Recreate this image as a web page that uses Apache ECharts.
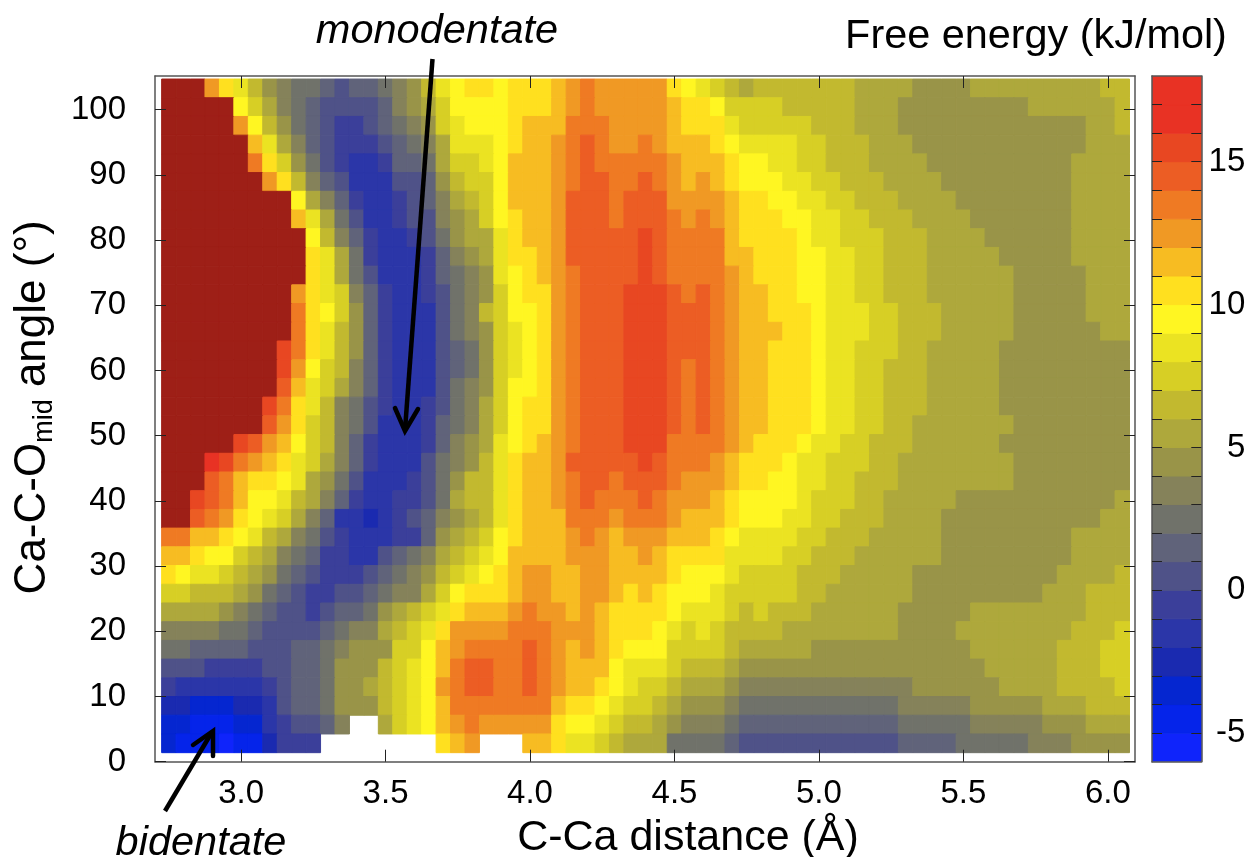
<!DOCTYPE html>
<html>
<head>
<meta charset="utf-8">
<style>html,body{margin:0;padding:0;background:#fff}#c{width:1251px;height:857px}</style>
<script src="https://cdn.jsdelivr.net/npm/echarts@6/dist/echarts.min.js"></script>
</head>
<body>
<div id="c"></div>
<script>
// Free-energy map, one run-length row per angle bin, top row first.
// Letter = 1 kJ/mol colour level (a = -6..-5, b = -5..-4, ... w = 16..17), Z = above the scale, . = no data.
const levelKeys = 'abcdefghijklmnopqrstuvwx';
const energyRows = [
 'Z3 s q o m k j i2 h g h2 i j k m o p q2 p q3 r s t s5 q p o n m l m7 l4 k4 l9 m2',
 'Z5 p n l j i h g4 h j k l n p4 q3 r s t s5 r q2 p n4 m5 l3 k9 l6 m',
 'Z5 s p m k i h g f2 g h i j k n o p3 q r3 t3 s4 r q3 o n5 m3 l3 k13 l2 m',
 'Z6 r o l j h g f3 g h i j l o3 p q r2 s t u t s2 t s r3 q p o4 n2 m3 l3 k12 l3',
 'Z6 t q n k i g f e2 f h2 i l n2 o p r3 s t u t5 s r3 q p2 o2 n2 m3 l4 k10 l4',
 'Z7 s q m j h g e3 g2 h k m n2 p r3 s t u2 t2 u t s r s r q p3 o2 n2 m3 l4 k9 l4',
 'Z9 p l j h f e2 f g h j l m n p r3 s u3 t u3 s4 r q2 p2 o2 n2 m3 l4 k8 l4',
 'Z9 r o l i g e2 f g2 j k l n p q r2 s u3 t u3 t s t s r q3 p2 o2 n2 m3 l4 k7 l4',
 'Z10 p m j h f e2 f g i k l2 o q r2 s u5 v u t4 r q4 p o2 n3 m3 l4 k6 l4',
 'Z10 q o l i f e3 f h j k l o q2 r s u5 v u t4 r2 q3 p2 o2 n2 m3 l5 k5 l4',
 'Z10 q o l i g e3 f h i j k o p q r s t u4 v u t4 s r q3 p2 o2 n2 m3 l6 k5 l3',
 'Z9 s q o n j h f e2 f g i j k n p q2 s t u3 v3 u t u t s r2 q2 p2 o2 n2 m3 l6 k5 l3',
 'Z9 t q p n k h f e3 g i j m n p2 q s t u3 v3 u3 t s r2 q3 p o3 n2 m3 l5 k5 l3',
 'Z9 t q o m k h f e3 g i j k n o p q s t u3 v3 u3 t s r3 q2 p o3 n2 m3 l5 k6 l2',
 'Z8 v t q o m k h f e3 g h i k n o p q s t u3 v3 u3 t s r2 q3 p o2 n3 m2 l5 k9',
 'Z8 v s p n m j h f e3 g h i k n o p q s t u3 v3 u t u t s r2 q3 p o2 n2 m3 l5 k9',
 'Z8 u r o n l j h f e3 g i j k n p2 q s t u3 v3 u t u t s r2 q3 p o2 n2 m3 l5 k9',
 'Z7 v t q o m j i g f e2 f g i j l n p q2 s t u3 v3 u t u t s r2 q3 p o2 n2 m3 l5 k9',
 'Z7 u s q n m j i g e3 f h i j l n p q2 s t u3 v3 u t u t s r2 q3 p o2 n2 m2 l7 k8',
 'Z5 v u s r p n m j h f e3 f h j k l o p q r s t u3 v3 t4 s r q3 p o2 n2 m3 l6 k9',
 'Z3 w v t s r q o n l j h f e3 g i j k m o q r2 s u5 v u t3 s r q3 p o2 n3 m2 l8 k8',
 'Z3 u t r q2 p o l k i g e3 f g i k m2 o q r2 s t u2 t u3 t s3 r q2 p2 o2 n2 m3 l8 k8',
 'Z2 v u t r p2 o m l j h f e2 f2 g i l m2 o q r2 s t u t3 u t s3 r q p4 o n3 m2 l5 k11 l',
 'Z2 u t s q p o n l j h e2 d e f g h j k l m o q r3 t3 s t3 s r3 q p3 o2 n2 m3 l4 k11 l2',
 't2 r2 q p o m l j i g f e3 f2 h k l m n p q r3 s t s r s3 r3 q p o4 n2 m3 l5 k9 l4',
 'r2 q p2 n m l j i h f2 e2 g h i j l m n o p r4 s3 r2 s r q4 o4 n2 m3 l6 k9 l4',
 'q p o2 n m l k i h g f3 g h i j k m n o p q r s2 r2 s2 r4 q p3 o n4 m3 l5 k10 l4 m',
 'n2 m3 l k i h g f2 g2 h i j2 l n p q3 r s2 r2 s2 r q r q p3 o n5 m2 l6 k9 l3 m3',
 'l4 k j i h g2 f g h2 i k l m n o q r3 s t s2 r s r q4 p o3 n m n m3 l6 k5 l8 m3',
 'j4 i2 h g4 h i j2 l m n o q s4 t3 s3 r q3 p o n o n m4 l8 k4 l8 m3 n',
 'i2 h4 g3 h2 i j k3 n2 p r s t4 u t s r s r q p3 n4 m l5 k11 l6 m3 n2',
 'g3 f4 g2 h2 i k3 m n o p r t u2 t2 u t s r3 p o3 n m3 l k17 l5 m3 n2',
 'f e6 f g h2 i k2 l m n o p s t u2 t2 u t s r2 q p o n2 m l3 k j12 k6 l4 m4 n',
 'd2 c3 d2 e g h2 i k3 m n o p r t7 r q2 p o n2 m l k3 j i11 j5 k5 l3 m3',
 'c2 b3 c2 e f g2 h j .2 l n o p r s t s5 q p2 o n m2 l k j3 i h11 i5 j5 k3 l3',
 'c b3 a b2 d f3 .8 q r s .3 r2 q o2 n m l3 i4 h g11 h4 i5 j3 k4'
];
const xTickValues = [3.0, 3.5, 4.0, 4.5, 5.0, 5.5, 6.0];
const yTickValues = [0, 10, 20, 30, 40, 50, 60, 70, 80, 90, 100];
const barTickValues = [-5, -4, -3, -2, -1, 0, 1, 2, 3, 4, 5, 6, 7, 8, 9, 10, 11, 12, 13, 14, 15, 16, 17];
const barLabelValues = [-5, 0, 5, 10, 15];
const barLevels = [-6, -5, -4, -3, -2, -1, 0, 1, 2, 3, 4, 5, 6, 7, 8, 9, 10, 11, 12, 13, 14, 15, 16, 17];
const palette = ['#0f24fb','#0524ea','#0526d0','#1a2ab0','#2b36a8','#3b3f9a','#4f5288','#60637a','#70726a','#85825a',
  '#999448','#aea83c','#c2b92f','#d7cf25','#ebe322','#fff622','#ffe01f','#f7bc22','#f09924','#ef7a23','#ec5d24','#e84722','#e83224','#e83224'];
const overColor = '#9e1f17';
const binStartX = 2.75, binStepX = 0.05;   // first distance bin centre, bin width
const binTopY = 103.27, binStepY = 2.87;   // top angle bin centre, bin height

function energyOf(ch) { return ch === 'Z' ? 19 : levelKeys.indexOf(ch) - 5.5; }
const cells = [];
energyRows.forEach(function (row, r) {
  let c = 0;
  row.split(' ').forEach(function (tok) {
    const n = tok.length > 1 ? parseInt(tok.slice(1), 10) : 1;
    for (let i = 0; i < n; i++, c++) {
      if (tok[0] !== '.') cells.push([binStartX + c * binStepX, binTopY - r * binStepY, energyOf(tok[0])]);
    }
  });
});
function colorOf(v) { return v > 18 ? overColor : palette[Math.floor(v + 6)]; }

const FONT = '"Liberation Sans", Arial, sans-serif';
const frame = { show: true, onZero: false, lineStyle: { color: '#555', width: 1.5 } };
const tick = function (len, vals) {
  return { show: true, inside: true, length: len, customValues: vals, lineStyle: { color: '#222', width: 1 } };
};
const label = function (o) {
  return Object.assign({ color: '#000', fontFamily: FONT, fontSize: 33 }, o);
};

const option = {
  backgroundColor: '#fff',
  animation: false,
  grid: [
    { left: 155, top: 76, width: 980, height: 685.7, outerBoundsMode: 'none', containLabel: false },
    { left: 1152, top: 76, width: 49.3, height: 685.7, outerBoundsMode: 'none', containLabel: false }
  ],
  xAxis: [
    { gridIndex: 0, type: 'value', position: 'bottom', min: 2.702, max: 6.094, z: 5, axisLine: frame, splitLine: { show: false },
      axisTick: tick(12, xTickValues),
      axisLabel: label({ margin: 16, customValues: xTickValues, formatter: function (v) { return v.toFixed(1); } }),
      name: 'C-Ca distance (Å)', nameLocation: 'middle', nameGap: 55,
      nameTextStyle: { color: '#000', fontFamily: FONT, fontSize: 43, padding: [0, 0, 0, 86] } },
    { gridIndex: 0, type: 'value', position: 'top', min: 2.702, max: 6.094, z: 5, axisLine: frame, splitLine: { show: false },
      axisTick: tick(12, xTickValues), axisLabel: { show: false } },
    { gridIndex: 1, type: 'value', position: 'bottom', min: 0, max: 1, z: 5, axisLine: frame, splitLine: { show: false },
      axisTick: { show: false }, axisLabel: { show: false } },
    { gridIndex: 1, type: 'value', position: 'top', min: 0, max: 1, z: 5, axisLine: frame, splitLine: { show: false },
      axisTick: { show: false }, axisLabel: { show: false } }
  ],
  yAxis: [
    { gridIndex: 0, type: 'value', position: 'left', min: 0, max: 105.17, z: 5, axisLine: frame, splitLine: { show: false },
      axisTick: tick(11, yTickValues),
      axisLabel: label({ margin: 29, customValues: yTickValues, padding: [3, 0, 0, 0] }),
      name: 'Ca-C-O{sub|mid} angle (°)', nameLocation: 'middle', nameGap: 97, nameRotate: 90,
      nameTextStyle: { color: '#000', fontFamily: FONT, fontSize: 44, padding: [0, 0, 0, 23],
        rich: { sub: { fontFamily: FONT, fontSize: 27, color: '#000', verticalAlign: 'bottom', padding: [24, 0, 0, 0] } } } },
    { gridIndex: 0, type: 'value', position: 'right', min: 0, max: 105.17, z: 5, axisLine: frame, splitLine: { show: false },
      axisTick: tick(11, yTickValues), axisLabel: { show: false } },
    { gridIndex: 1, type: 'value', position: 'right', min: -6, max: 18, z: 5, axisLine: frame, splitLine: { show: false },
      axisTick: tick(10, barTickValues),
      axisLabel: label({ margin: 44, align: 'right', customValues: barLabelValues, padding: [3, 0, 0, 0] }) },
    { gridIndex: 1, type: 'value', position: 'left', min: -6, max: 18, z: 5, axisLine: frame, splitLine: { show: false },
      axisTick: tick(10, barTickValues), axisLabel: { show: false } }
  ],
  series: [
    {
      type: 'custom', xAxisIndex: 0, yAxisIndex: 0, coordinateSystem: 'cartesian2d', silent: true,
      encode: { x: 0, y: 1 }, data: cells, clip: true,
      renderItem: function (params, api) {
        const x = api.value(0), y = api.value(1), v = api.value(2);
        const a = api.coord([x - binStepX / 2, y + binStepY / 2]);
        const b = api.coord([x + binStepX / 2, y - binStepY / 2]);
        const col = colorOf(v);
        return { type: 'rect', shape: { x: a[0], y: a[1], width: b[0] - a[0], height: b[1] - a[1] },
          style: { fill: col, stroke: col, lineWidth: 1 } };
      }
    },
    {
      type: 'custom', xAxisIndex: 2, yAxisIndex: 2, coordinateSystem: 'cartesian2d', silent: true,
      encode: { y: 0 }, data: barLevels.map(function (l) { return [l]; }), clip: true,
      renderItem: function (params, api) {
        const l = api.value(0);
        const a = api.coord([0, l + 1]);
        const b = api.coord([1, l]);
        const col = palette[l + 6];
        return { type: 'rect', shape: { x: a[0], y: a[1], width: b[0] - a[0], height: b[1] - a[1] },
          style: { fill: col, stroke: col, lineWidth: 1 } };
      }
    }
  ],
  graphic: [
    { type: 'text', z: 20, x: 1036, y: 37, style: { text: 'Free energy (kJ/mol)', fontFamily: FONT, fontSize: 41.4, fill: '#000', textAlign: 'center', textVerticalAlign: 'middle' } },
    { type: 'text', z: 20, x: 437, y: 31, style: { text: 'monodentate', fontFamily: FONT, fontStyle: 'italic', fontSize: 41.5, fill: '#000', textAlign: 'center', textVerticalAlign: 'middle' } },
    { type: 'text', z: 20, x: 201, y: 843, style: { text: 'bidentate', fontFamily: FONT, fontStyle: 'italic', fontSize: 41.5, fill: '#000', textAlign: 'center', textVerticalAlign: 'middle' } },
    { type: 'polyline', z: 20, shape: { points: [[432.5, 59], [405, 430]] }, style: { stroke: '#000', lineWidth: 4.5, fill: null } },
    { type: 'polyline', z: 20, shape: { points: [[395, 408], [405, 431], [418, 409]] }, style: { stroke: '#000', lineWidth: 4.5, fill: null, lineCap: 'round' } },
    { type: 'polyline', z: 20, shape: { points: [[165, 811], [212, 732]] }, style: { stroke: '#000', lineWidth: 4.5, fill: null } },
    { type: 'polyline', z: 20, shape: { points: [[193, 745], [213, 731], [213, 756]] }, style: { stroke: '#000', lineWidth: 4.5, fill: null, lineCap: 'round' } }
  ]
};
const chart = echarts.init(document.getElementById('c'), null, { renderer: 'canvas', width: 1251, height: 857 });
chart.setOption(option);
</script>
</body>
</html>
